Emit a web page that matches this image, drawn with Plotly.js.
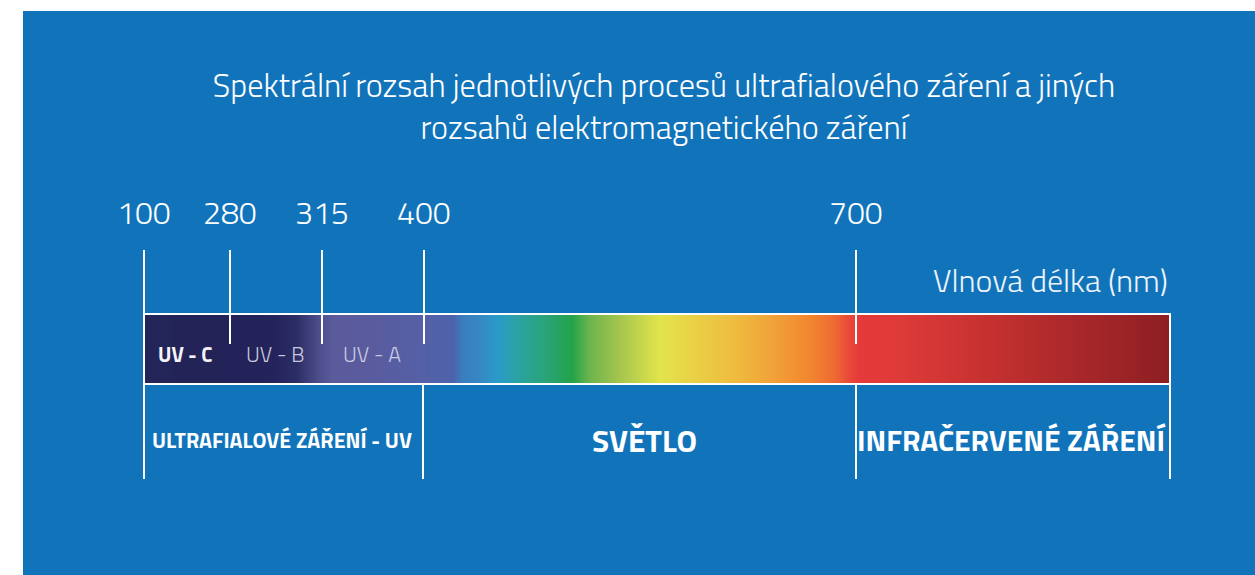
<!DOCTYPE html>
<html>
<head>
<meta charset="utf-8">
<script src="https://cdn.plot.ly/plotly-3.0.1.min.js"></script>
<style>html,body{margin:0;padding:0;background:#fff;}#chart{width:1255px;height:575px;}</style>
</head>
<body>
<div id="chart"></div>
<script>
// ---- data ----
const wavelengths = [100, 280, 315, 400, 700];           // nm, tick labels
const uvBands = ['UV - C', 'UV - B', 'UV - A'];
const regions = ['ULTRAFIALOVÉ ZÁŘENÍ - UV', 'SVĚTLO', 'INFRAČERVENÉ ZÁŘENÍ'];
const axisLabel = 'Vlnová délka (nm)';
const titleText = 'Spektrální rozsah jednotlivých procesů ultrafialového záření a jiných<br>rozsahů elektromagnetického záření';

// ---- schematic layout (diagram positions, not data) ----
const tickPos = [144, 230, 322, 424, 856];   // schematic x of each wavelength
const barStart = 144, barEnd = 1170;
const barTop = 314, barBottom = 384;
const tickTop = 250, tickBottom = 344, lowerBottom = 479;
const regionEdges = [144, 423, 856, 1170];
const uvLabelPos = [185, 275, 372];
const regionLabelPos = [282, 644, 1011];

// gradient stops (schematic position, colour)
const gradPos = [145, 255, 275, 297, 320, 333, 373, 423, 453, 462, 480, 497, 520, 545, 572, 590, 620, 660, 700, 740, 790, 810, 835, 850, 860, 900, 1000, 1080, 1169];
const gradCol = ['#232457','#232259','#24235b','#2d2d66','#4f4f8e','#5b5a9b','#5a5b9e','#5460a7','#4d62ab','#3b7cbe','#3688c3','#299bca','#2ba39e','#2aa37a','#22a34a','#6db44d','#a6c54e','#e2e44b','#ebcd45','#efb93e','#f29535','#f2862f','#ee6933','#e9473a','#e5393a','#de3a38','#c2302f','#a8272a','#8e1f22'];

const FONT = 'Titillium Web, Roboto, "Open Sans", sans-serif';
const WHITE = '#ffffff';
const BLUE = '#1174bb';

// heatmap gradient
const gx0 = gradPos[0], gx1 = gradPos[gradPos.length - 1];
const edges = [], zrow = [];
for (let p = gx0; p <= gx1; p++) edges.push(p);
for (let i = 0; i < edges.length - 1; i++) zrow.push((edges[i] + edges[i + 1]) / 2);
const colorscale = gradPos.map((p, i) => [(p - gx0) / (gx1 - gx0), gradCol[i]]);

const traces = [];
traces.push({
  type: 'heatmap', x: edges, y: [barTop, barBottom], z: [zrow],
  colorscale: colorscale, zmin: gx0, zmax: gx1, showscale: false, hoverinfo: 'skip'
});

// bar outline
traces.push({
  type: 'scatter', mode: 'lines', hoverinfo: 'skip', showlegend: false,
  x: [barStart, barEnd, barEnd, barStart, barStart],
  y: [barTop, barTop, barBottom, barBottom, barTop],
  line: {color: WHITE, width: 2}
});

// upper tick lines
const ux = [], uy = [];
tickPos.forEach(p => { ux.push(p, p, null); uy.push(tickTop, tickBottom, null); });
traces.push({type: 'scatter', mode: 'lines', hoverinfo: 'skip', showlegend: false, x: ux, y: uy, line: {color: WHITE, width: 2}});

// lower region dividers
const lx = [], ly = [];
regionEdges.forEach(p => { lx.push(p, p, null); ly.push(barBottom, lowerBottom, null); });
lx.push(barStart, barStart, null); ly.push(tickTop, barBottom, null);
traces.push({type: 'scatter', mode: 'lines', hoverinfo: 'skip', showlegend: false, x: lx, y: ly, line: {color: WHITE, width: 2}});

// annotations
const ann = [];
wavelengths.forEach((w, i) => ann.push({
  x: tickPos[i], y: 212, xref: 'x', yref: 'y', text: String(w), showarrow: false,
  font: {family: FONT, size: 32, color: WHITE, weight: 300}, xanchor: 'center', yanchor: 'middle'
}));
ann.push({x: barEnd, y: 280, xref: 'x', yref: 'y', text: axisLabel, showarrow: false,
  font: {family: FONT, size: 32, color: '#eef3fa', weight: 300}, xanchor: 'right', yanchor: 'middle'});
const uvColors = ['#f4f4f8', '#c8c9dd', '#c9cbe3'];
const uvWeights = [700, 300, 300];
const uvSizes = [20.5, 21.5, 21.5];
uvBands.forEach((b, i) => ann.push({
  x: uvLabelPos[i], y: 354, xref: 'x', yref: 'y', text: b, showarrow: false,
  font: {family: FONT, size: uvSizes[i], color: uvColors[i], weight: uvWeights[i]}, xanchor: 'center', yanchor: 'middle'
}));
const regionSizes = [21.5, 31.5, 29.8];
regions.forEach((r, i) => ann.push({
  x: regionLabelPos[i], y: 440, xref: 'x', yref: 'y', text: r, showarrow: false,
  font: {family: FONT, size: regionSizes[i], color: WHITE, weight: 700}, xanchor: 'center', yanchor: 'middle'
}));

const layout = {
  width: 1255, height: 575,
  margin: {l: 23, r: 0, t: 11, b: 0, pad: 0},
  paper_bgcolor: '#ffffff', plot_bgcolor: BLUE,
  showlegend: false,
  title: {text: titleText, x: 0.5291, xanchor: 'center', y: 0.832, yanchor: 'middle',
          font: {family: FONT, size: 32.3, color: WHITE, weight: 300}},
  xaxis: {range: [23, 1255], visible: false, fixedrange: true},
  yaxis: {range: [575, 11], visible: false, fixedrange: true},
  annotations: ann
};

Plotly.newPlot('chart', traces, layout, {staticPlot: true, displayModeBar: false});
</script>
</body>
</html>
